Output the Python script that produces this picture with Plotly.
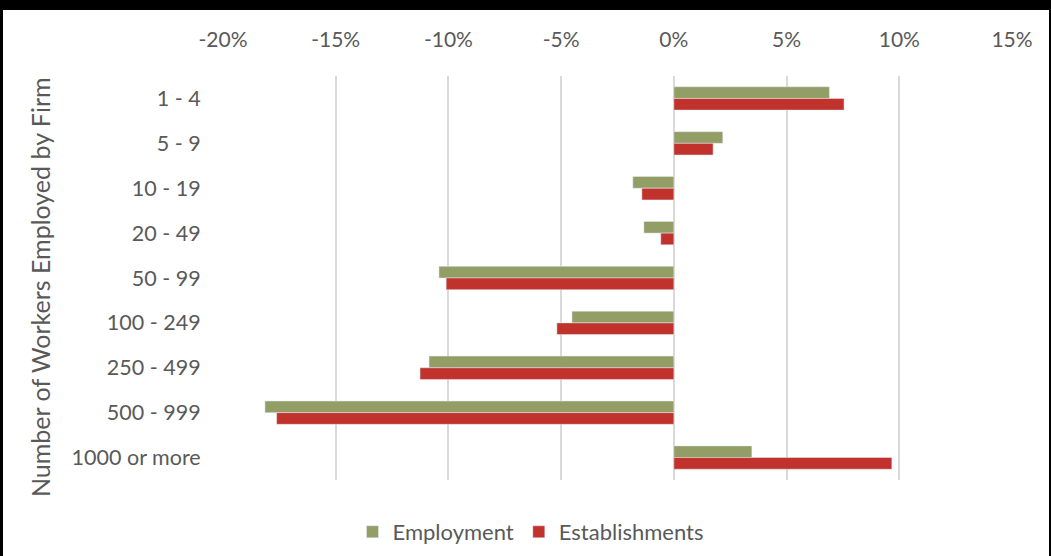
import plotly.graph_objects as go

categories = ["1 - 4", "5 - 9", "10 - 19", "20 - 49", "50 - 99", "100 - 249",
              "250 - 499", "500 - 999", "1000 or more"]
employment = [0.069, 0.0217, -0.0182, -0.0133, -0.1042, -0.0452, -0.1086, -0.1814, 0.0346]
establishments = [0.0755, 0.0174, -0.0142, -0.0058, -0.1010, -0.0519, -0.1126, -0.1762, 0.0967]
x_ticks = [-0.20, -0.15, -0.10, -0.05, 0.0, 0.05, 0.10, 0.15]
x_tick_text = ["-20%", "-15%", "-10%", "-5%", "0%", "5%", "10%", "15%"]
y_title = "Number of Workers Employed by Firm"

W, H = 1051, 556
ML, MR, MT, MB = 223, 39, 76, 76
PW, PH = W - ML - MR, H - MT - MB

GREEN = "#939D66"
RED = "#C0322B"
TXT = "#595959"
FONT = "Lato"

fig = go.Figure()
fig.add_trace(go.Bar(y=categories, x=employment, name="Employment", orientation="h",
                     marker=dict(color=GREEN)))
fig.add_trace(go.Bar(y=categories, x=establishments, name="Establishments", orientation="h",
                     marker=dict(color=RED)))

def px_x(p):
    return (p - ML) / PW

def px_y(p):
    return (H - MB - p) / PH

shapes = [
    dict(type="rect", xref="paper", yref="paper", x0=px_x(0), x1=px_x(W), y0=px_y(10), y1=px_y(0),
         fillcolor="black", line=dict(width=0), layer="above"),
    dict(type="rect", xref="paper", yref="paper", x0=px_x(0), x1=px_x(3), y0=px_y(H), y1=px_y(0),
         fillcolor="black", line=dict(width=0), layer="above"),
    dict(type="rect", xref="paper", yref="paper", x0=px_x(1049), x1=px_x(W), y0=px_y(H), y1=px_y(0),
         fillcolor="black", line=dict(width=0), layer="above"),
]

annotations = [
    dict(text=y_title, xref="paper", yref="paper", x=px_x(40), y=px_y(287),
         xanchor="center", yanchor="middle", textangle=-90, showarrow=False,
         font=dict(size=25, color=TXT, family=FONT)),
]

fig.update_layout(
    width=W, height=H,
    margin=dict(l=ML, r=MR, t=MT, b=MB, autoexpand=False),
    paper_bgcolor="white", plot_bgcolor="white",
    barmode="group", bargap=0.48, bargroupgap=0,
    font=dict(family=FONT, color=TXT, size=21),
    showlegend=True,
    legend=dict(orientation="h", x=px_x(531), xanchor="center",
                y=px_y(532), yanchor="middle", font=dict(size=22, color=TXT),
                itemwidth=30, traceorder="normal"),
    shapes=shapes,
    annotations=annotations,
    xaxis=dict(side="top", range=[-0.20, 0.15], tickvals=x_ticks, ticktext=x_tick_text,
               showgrid=True, gridcolor="#D9D9D9", gridwidth=2, zeroline=False,
               showline=False, ticks="outside", ticklen=20, tickcolor="rgba(0,0,0,0)",
               tickfont=dict(size=21, color=TXT), fixedrange=True),
    yaxis=dict(categoryorder="array", categoryarray=categories, autorange="reversed",
               showgrid=False, zeroline=False, showline=False,
               ticks="outside", ticklen=17, tickcolor="rgba(0,0,0,0)",
               tickfont=dict(size=21.5, color=TXT)),
)

fig.write_html("out.html")
